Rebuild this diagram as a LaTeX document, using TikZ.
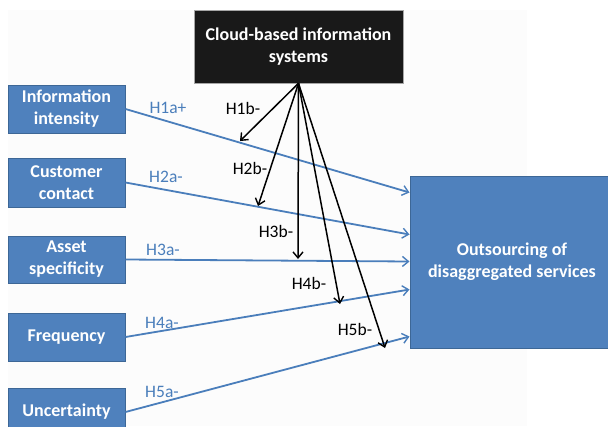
\documentclass[tikz,border=0pt]{standalone}
\usepackage{fontspec}
\setmainfont{Carlito}
\usetikzlibrary{arrows.meta}
\definecolor{boxblue}{HTML}{4F81BD}
\definecolor{boxedge}{HTML}{3D6796}
\definecolor{linkblue}{HTML}{4A7EBB}
\definecolor{panel}{HTML}{FCFCFC}
\begin{document}
\begin{tikzpicture}[x=1pt,y=-1pt,
  factor/.style={draw=boxedge,line width=1pt,fill=boxblue,text=white,
    font=\fontsize{18}{22}\selectfont\bfseries,align=center,
    minimum width=117pt,inner sep=0pt},
  cloudbox/.style={draw=gray!70,line width=0.6pt,fill=black!90,text=white,
    font=\fontsize{18}{22}\selectfont\bfseries,align=center,
    minimum width=209pt,minimum height=73pt,inner sep=0pt},
  outbox/.style={draw=boxedge,line width=1pt,fill=boxblue,text=white,
    font=\fontsize{18}{22}\selectfont\bfseries,align=center,
    minimum width=204pt,minimum height=172pt,inner sep=0pt},
  alink/.style={draw=linkblue,line width=1.8pt,
    -{Straight Barb[length=6pt,width=10pt,line width=1.4pt]}},
  blink/.style={draw=black,line width=1.5pt,
    -{Straight Barb[length=6pt,width=10pt,line width=1.4pt]}},
  alabel/.style={text=linkblue,font=\fontsize{17.5}{20}\selectfont,inner sep=0pt},
  blabel/.style={text=black,font=\fontsize{17.5}{20}\selectfont,inner sep=0pt}]

\clip (0,0) rectangle (608,426);
\fill[white] (0,0) rectangle (608,426);
\fill[panel] (8,10) rectangle (527,426);

% boxes
\node[cloudbox] (cloud) at (298.5,46.5) {Cloud-based information\\systems};
\node[factor,minimum height=48pt] (info)  at (66.5,109)   {Information\\intensity};
\node[factor,minimum height=49pt] (cust)  at (66.5,182.5) {Customer\\contact};
\node[factor,minimum height=47pt] (asset) at (66.5,259.5) {Asset\\specificity};
\node[factor,minimum height=48pt] (freq)  at (66.5,337)   {Frequency};
\node[factor,minimum height=48pt] (unc)   at (66.5,412)   {Uncertainty};
\node[outbox] (out) at (512,262) {Outsourcing of\\disaggregated services};

% direct effects
\draw[alink] (info.east)  -- ([yshift=-17pt]out.north west);
\draw[alink] (cust.east)  -- ([yshift=-59pt]out.north west);
\draw[alink] (asset.east) -- ([yshift=-86pt]out.north west);
\draw[alink] (freq.east)  -- ([yshift=-114pt]out.north west);
\draw[alink] (unc.east)   -- ([yshift=-161pt]out.north west);

% moderating effects
\coordinate (m1) at (240,141);
\coordinate (m2) at (258,206);
\coordinate (m3) at (298,259);
\coordinate (m4) at (340,304);
\coordinate (m5) at (385,348);
\foreach \m in {m1,m2,m3,m4,m5}
  \draw[blink] (cloud.south) -- (\m);

% labels
\node[alabel] (la1) at (168,108) {H1a+};
\node[alabel] (la2) at (166,177) {H2a-};
\node[alabel] (la3) at (163,250) {H3a-};
\node[alabel] (la4) at (162,323) {H4a-};
\node[alabel] (la5) at (162,392) {H5a-};
\node[blabel] (lb1) at (243,108) {H1b-};
\node[blabel] (lb2) at (250,168) {H2b-};
\node[blabel] (lb3) at (276,231) {H3b-};
\node[blabel] (lb4) at (309,283) {H4b-};
\node[blabel] (lb5) at (355,329) {H5b-};
\end{tikzpicture}
\end{document}
